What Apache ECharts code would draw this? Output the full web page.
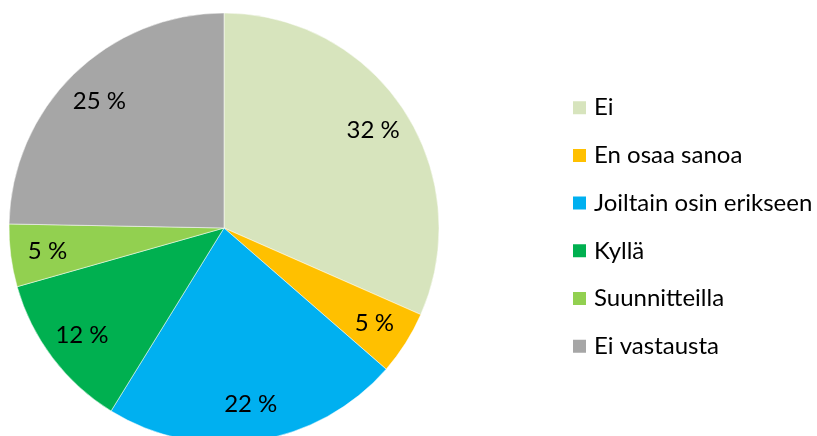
<!DOCTYPE html>
<html>
<head>
<meta charset="utf-8">
<script src="https://cdn.jsdelivr.net/npm/echarts@6/dist/echarts.min.js"></script>
<style>
html,body{margin:0;padding:0;background:#fff;}
#chart{width:817px;height:436px;}
</style>
</head>
<body>
<div id="chart"></div>
<script>
var categories = ['Ei', 'En osaa sanoa', 'Joiltain osin erikseen', 'Kyllä', 'Suunnitteilla', 'Ei vastausta'];
var values = [31.6, 4.8, 22.4, 11.8, 4.7, 24.7];
var colors = ['#D7E4BD', '#FFC000', '#00B0F0', '#00B050', '#92D050', '#A6A6A6'];

var FONT = 'Lato';
var mainData = categories.map(function (c, i) {
  return { name: c, value: values[i], itemStyle: { color: colors[i] } };
});
var labelData = categories.map(function (c, i) {
  return { name: c, value: values[i] };
});

var chart = echarts.init(document.getElementById('chart'), null, { renderer: 'canvas' });
chart.setOption({
  animation: false,
  color: colors,
  legend: {
    orient: 'vertical',
    left: 571,
    top: 95.7,
    padding: 0,
    icon: 'rect',
    itemWidth: 15,
    itemHeight: 15,
    itemGap: 23.7,
    data: categories,
    selectedMode: false,
    textStyle: {
      fontFamily: FONT,
      fontSize: 24,
      color: '#000',
      lineHeight: 24,
      padding: [0, 0, 0, 2]
    }
  },
  series: [
    {
      type: 'pie',
      center: [224, 228],
      radius: [0, 215],
      startAngle: 90,
      clockwise: true,
      avoidLabelOverlap: false,
      label: { show: false },
      labelLine: { show: false },
      itemStyle: { borderColor: '#fff', borderWidth: 0.5 },
      emphasis: { disabled: true },
      data: mainData
    },
    {
      type: 'pie',
      center: [224, 228],
      radius: [135, 215],
      startAngle: 90,
      clockwise: true,
      silent: true,
      avoidLabelOverlap: false,
      itemStyle: { color: 'rgba(0,0,0,0)' },
      emphasis: { disabled: true },
      labelLine: { show: false },
      label: {
        show: true,
        position: 'inside',
        color: '#000',
        fontFamily: FONT,
        fontSize: 24,
        formatter: function (p) { return Math.round(p.percent) + ' %'; }
      },
      data: labelData
    }
  ]
});
</script>
</body>
</html>
